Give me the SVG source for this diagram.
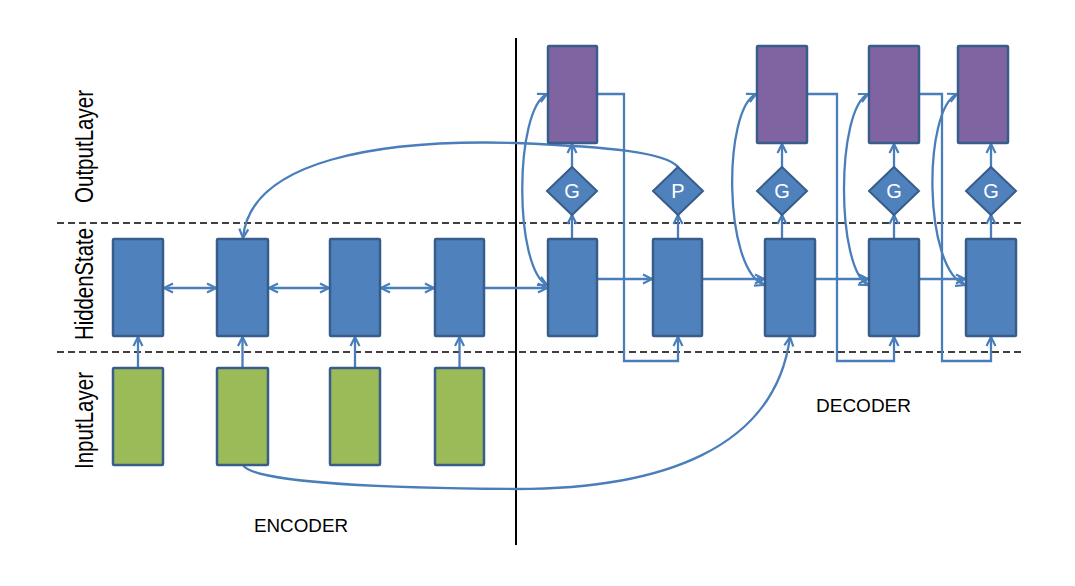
<svg xmlns="http://www.w3.org/2000/svg" width="1075" height="586" viewBox="0 0 1075 586">
<defs>
<marker id="arr" viewBox="0 0 12 12" refX="10.5" refY="6" markerWidth="12" markerHeight="12" markerUnits="userSpaceOnUse" orient="auto-start-reverse">
<path d="M1.5,1.5 L10.5,6 L1.5,10.5" fill="none" stroke="#4A7EBB" stroke-width="2.2" stroke-linejoin="miter"/>
</marker>
</defs>
<style>
.bg{fill:#FFFFFF}
.hid{fill:#4F81BD;stroke:#385D8A;stroke-width:2.5}
.inp{fill:#9BBB59;stroke:#385D8A;stroke-width:2.5}
.out{fill:#8064A2;stroke:#385D8A;stroke-width:2.5}
.dia{fill:#4F81BD;stroke:#385D8A;stroke-width:2}
.dl{font-family:"Liberation Sans",Arial,sans-serif;font-size:20px;fill:#FFFFFF;text-anchor:middle}
.lab{font-family:"Liberation Sans",Arial,sans-serif;font-size:25px;fill:#000000}
.cap{font-family:"Liberation Sans",Arial,sans-serif;font-size:19px;fill:#000000}
.dash{stroke:#000000;stroke-width:1.6;stroke-dasharray:7 4;fill:none}
.c{fill:none;stroke:#4A7EBB;stroke-width:2.3}
.a{marker-end:url(#arr)}
.b{marker-start:url(#arr);marker-end:url(#arr)}
</style>
<rect class="bg" x="0" y="0" width="1075" height="586"/>

<g id="guides">
<line class="dash" x1="57" y1="223" x2="1022" y2="223"/>
<line class="dash" x1="57" y1="352" x2="1022" y2="352"/>
<line x1="516" y1="38" x2="516" y2="545" stroke="#000000" stroke-width="2"/>
</g>

<g id="labels">
<text class="lab" transform="translate(93,203) rotate(-90)" textLength="113" lengthAdjust="spacingAndGlyphs">OutputLayer</text>
<text class="lab" transform="translate(93,340) rotate(-90)" textLength="112" lengthAdjust="spacingAndGlyphs">HiddenState</text>
<text class="lab" transform="translate(93,469) rotate(-90)" textLength="97" lengthAdjust="spacingAndGlyphs">InputLayer</text>
<text class="cap" x="254" y="532" textLength="94" lengthAdjust="spacingAndGlyphs">ENCODER</text>
<text class="cap" x="816" y="412" textLength="95" lengthAdjust="spacingAndGlyphs">DECODER</text>
</g>

<g id="connectors">
<path class="c a" d="M138,368 V337"/>
<path class="c a" d="M242.5,368 V337"/>
<path class="c a" d="M355,368 V337"/>
<path class="c a" d="M459.5,368 V337"/>
<path class="c b" d="M164,288 H216"/>
<path class="c b" d="M269,288 H329"/>
<path class="c b" d="M381,288 H434"/>
<path class="c a" d="M485,288 H547"/>
<path class="c a" d="M598,279 H652"/>
<path class="c a" d="M703,279 H764"/>
<path class="c a" d="M816,279 H868"/>
<path class="c a" d="M920,279 H965"/>
<path class="c a" d="M572,239 V215"/>
<path class="c a" d="M678,239 V215"/>
<path class="c a" d="M782,239 V215"/>
<path class="c a" d="M894,239 V215"/>
<path class="c a" d="M991,239 V215"/>
<path class="c a" d="M572,167 V144"/>
<path class="c a" d="M782,167 V144"/>
<path class="c a" d="M894,167 V144"/>
<path class="c a" d="M991,167 V144"/>
<path class="c a" d="M597,94 H624 V361 H678 V337"/>
<path class="c a" d="M807,94 H837 V361 H894 V337"/>
<path class="c a" d="M919,94 H942 V361 H991 V337"/>
<path class="c b" d="M547,94 C514,110 514,268 547,285"/>
<path class="c b" d="M756,94 C723,110 723,268 764,285"/>
<path class="c b" d="M868,94 C836,110 836,268 868,285"/>
<path class="c b" d="M957,94 C923,110 923,268 965,285"/>
<path class="c a" d="M678,167 C665,152 610,147 516,143 C380,139 250,160 243,238"/>
<path class="c a" d="M243,465 C250,478 330,488 516,489 C660,489 775,450 790,337"/>
</g>

<g id="enc-in-1"><rect class="inp" x="113" y="368" width="50" height="97" rx="1"/></g>
<g id="enc-in-2"><rect class="inp" x="217" y="368" width="51" height="97" rx="1"/></g>
<g id="enc-in-3"><rect class="inp" x="330" y="368" width="50" height="97" rx="1"/></g>
<g id="enc-in-4"><rect class="inp" x="435" y="368" width="49" height="97" rx="1"/></g>

<g id="enc-h-1"><rect class="hid" x="113" y="239" width="50" height="97" rx="1"/></g>
<g id="enc-h-2"><rect class="hid" x="217" y="239" width="51" height="97" rx="1"/></g>
<g id="enc-h-3"><rect class="hid" x="330" y="239" width="50" height="97" rx="1"/></g>
<g id="enc-h-4"><rect class="hid" x="435" y="239" width="49" height="97" rx="1"/></g>

<g id="dec-h-1"><rect class="hid" x="548" y="239" width="49" height="97" rx="1"/></g>
<g id="dec-h-2"><rect class="hid" x="653" y="239" width="49" height="97" rx="1"/></g>
<g id="dec-h-3"><rect class="hid" x="765" y="239" width="50" height="97" rx="1"/></g>
<g id="dec-h-4"><rect class="hid" x="869" y="239" width="50" height="97" rx="1"/></g>
<g id="dec-h-5"><rect class="hid" x="966" y="239" width="50" height="97" rx="1"/></g>

<g id="dec-o-1"><rect class="out" x="548" y="46" width="49" height="97" rx="1"/></g>
<g id="dec-o-3"><rect class="out" x="757" y="46" width="50" height="97" rx="1"/></g>
<g id="dec-o-4"><rect class="out" x="869" y="46" width="50" height="97" rx="1"/></g>
<g id="dec-o-5"><rect class="out" x="958" y="46" width="50" height="97" rx="1"/></g>

<g id="gate-1"><path class="dia" d="M572,167 L597,191 L572,215 L547,191 Z"/><text class="dl" x="572" y="198">G</text></g>
<g id="gate-p"><path class="dia" d="M678,167 L703,191 L678,215 L653,191 Z"/><text class="dl" x="678" y="198">P</text></g>
<g id="gate-3"><path class="dia" d="M782,167 L807,191 L782,215 L757,191 Z"/><text class="dl" x="782" y="198">G</text></g>
<g id="gate-4"><path class="dia" d="M894,167 L919,191 L894,215 L869,191 Z"/><text class="dl" x="894" y="198">G</text></g>
<g id="gate-5"><path class="dia" d="M991,167 L1016,191 L991,215 L966,191 Z"/><text class="dl" x="991" y="198">G</text></g>
</svg>
